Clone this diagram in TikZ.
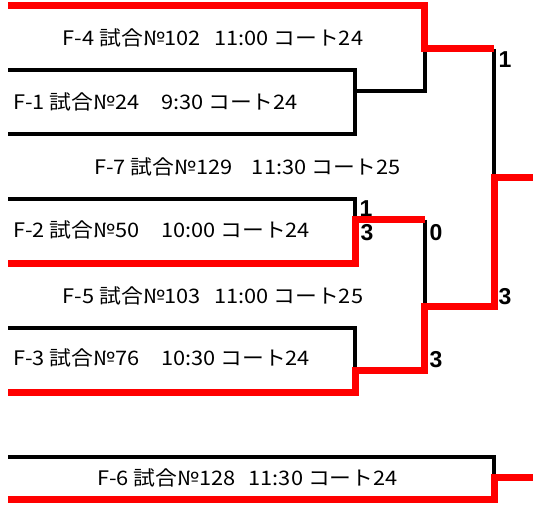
\documentclass[tikz,border=0pt]{standalone}
\usepackage{fontspec}
\setmainfont{Liberation Sans}
\newfontfamily\jpfont{Noto Sans CJK JP}
\tikzset{
  lose/.style={line width=4pt},
  win/.style={red,line width=7pt},
  card/.style={inner sep=0pt,xscale=1.09,font=\jpfont\fontsize{20}{20}\selectfont},
  score/.style={inner sep=0pt,font=\bfseries\fontsize{23}{23}\selectfont}
}
\begin{document}
\begin{tikzpicture}[x=1pt,y=-1pt]
  \useasboundingbox (0,0) rectangle (533,513);
  \coordinate (m4) at (424.5,49);
  \coordinate (m1) at (355,91);
  \coordinate (m2) at (355,220);
  \coordinate (m3) at (355,370);
  \coordinate (m5) at (424.5,306);
  \coordinate (m7) at (494,178);
  \coordinate (m6) at (494,477);
  \coordinate (end7) at (533,178);
  \coordinate (end6) at (533,477);

  \draw[lose](8,70) -| (355,134) -- (8,134);
  \draw[lose](m1) -| (m4);
  \draw[lose](m4 -| m7) -- (m7);
  \draw[lose](8,199) -| (m2);
  \draw[lose](m2 -| m5) -- (m5);
  \draw[lose](8,328) -| (m3);
  \draw[lose](8,457) -| (m6);

  \draw[win](8,6) -| (m4) -- (m4 -| m7);
  \draw[win](8,264) -| (m2) -- (m2 -| m5);
  \draw[win](8,392) -| (m3) -| (m5) -| (m7) -- (end7);
  \draw[win](8,499) -| (m6) -- (end6);

  \node[card] (t4) at (213,38) {F-4 試合№102\hspace{12pt}11:00 コート24};
  \node[card,anchor=west] (t1) at (13,102) {F-1 試合№24\hspace{20pt}9:30 コート24};
  \node[card] (t7) at (247.5,167) {F-7 試合№129\hspace{18pt}11:30 コート25};
  \node[card,anchor=west] (t2) at (13,230) {F-2 試合№50\hspace{20pt}10:00 コート24};
  \node[card] (t5) at (213,296) {F-5 試合№103\hspace{12pt}11:00 コート25};
  \node[card,anchor=west] (t3) at (13,358) {F-3 試合№76\hspace{20pt}10:30 コート24};
  \node[card] (t6) at (247.5,478) {F-6 試合№128\hspace{12pt}11:30 コート24};

  \node[score] (s7a) at (505,60) {1};
  \node[score] (s7b) at (505,297) {3};
  \node[score] (s2a) at (366,209) {1};
  \node[score] (s2b) at (367,233) {3};
  \node[score] (s5a) at (436,233) {0};
  \node[score] (s5b) at (436,360) {3};
\end{tikzpicture}
\end{document}
